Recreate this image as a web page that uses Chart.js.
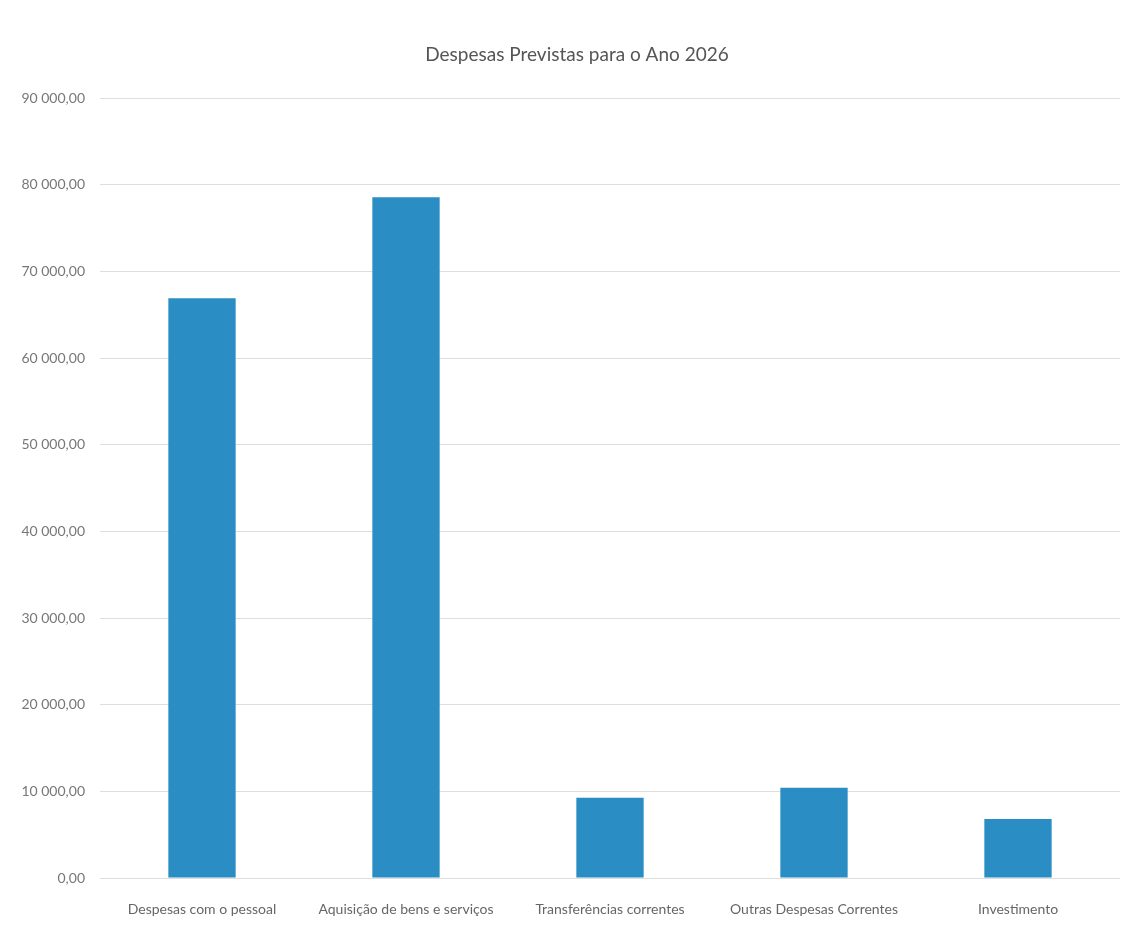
<!DOCTYPE html>
<html lang="pt">
<head>
    <meta charset="UTF-8">
    <title>Despesas Previstas para o Ano 2026</title>
    <style>
        html, body {
            margin: 0;
            padding: 0;
            background: #ffffff;
        }
        .wrap {
            width: 1128px;
            height: 929px;
        }
    </style>
    <script src="https://cdn.jsdelivr.net/npm/chart.js"></script>
</head>
<body>
    <div class="wrap">
        <canvas id="despesasChart" width="1128" height="929"></canvas>
    </div>

    <script>
        // Data
        const categories = [
            "Despesas com o pessoal",
            "Aquisição de bens e serviços",
            "Transferências correntes",
            "Outras Despesas Correntes",
            "Investimento"
        ];
        const valores = [66900, 78550, 9250, 10400, 6800];
        const yMax = 90000;
        const yStep = 10000;
        const chartTitle = 'Despesas Previstas para o Ano 2026';

        // "90 000,00" style labels
        function formatPt(v) {
            const parts = v.toFixed(2).split('.');
            const inteiro = parts[0].replace(/\B(?=(\d{3})+(?!\d))/g, ' ');
            return inteiro + ',' + parts[1];
        }

        const fontFamily = "Lato, 'Open Sans', sans-serif";

        // title drawn a bit right of the canvas centre, like the original
        const titlePlugin = {
            id: 'offsetTitle',
            afterDraw(chart) {
                const c = chart.ctx;
                c.save();
                c.font = '19px ' + fontFamily;
                c.fillStyle = '#555555';
                c.textAlign = 'center';
                c.textBaseline = 'middle';
                c.fillText(chartTitle, chart.width / 2 + 13, 55);
                c.restore();
            }
        };

        const ctx = document.getElementById('despesasChart').getContext('2d');
        new Chart(ctx, {
            type: 'bar',
            data: {
                labels: categories,
                datasets: [{
                    label: 'Despesas',
                    data: valores,
                    backgroundColor: '#2a8dc3',
                    categoryPercentage: 1,
                    barPercentage: 0.33
                }]
            },
            options: {
                responsive: false,
                animation: false,
                layout: {
                    padding: { top: 98, left: 0, right: 8, bottom: 0 }
                },
                plugins: {
                    legend: { display: false },
                    tooltip: { enabled: false },
                    title: { display: false }
                },
                scales: {
                    x: {
                        grid: { display: false },
                        border: { display: false },
                        ticks: {
                            color: '#666666',
                            font: { family: fontFamily, size: 14 },
                            padding: 15,
                            maxRotation: 0
                        },
                        afterFit: s => { s.height = 51; }
                    },
                    y: {
                        min: 0,
                        max: yMax,
                        grid: { color: '#dedede', drawTicks: false },
                        border: { display: false },
                        ticks: {
                            stepSize: yStep,
                            color: '#777777',
                            font: { family: fontFamily, size: 14 },
                            padding: 15,
                            callback: v => formatPt(v)
                        },
                        afterFit: s => { s.width = 100; }
                    }
                }
            },
            plugins: [titlePlugin]
        });
    </script>
</body>
</html>
